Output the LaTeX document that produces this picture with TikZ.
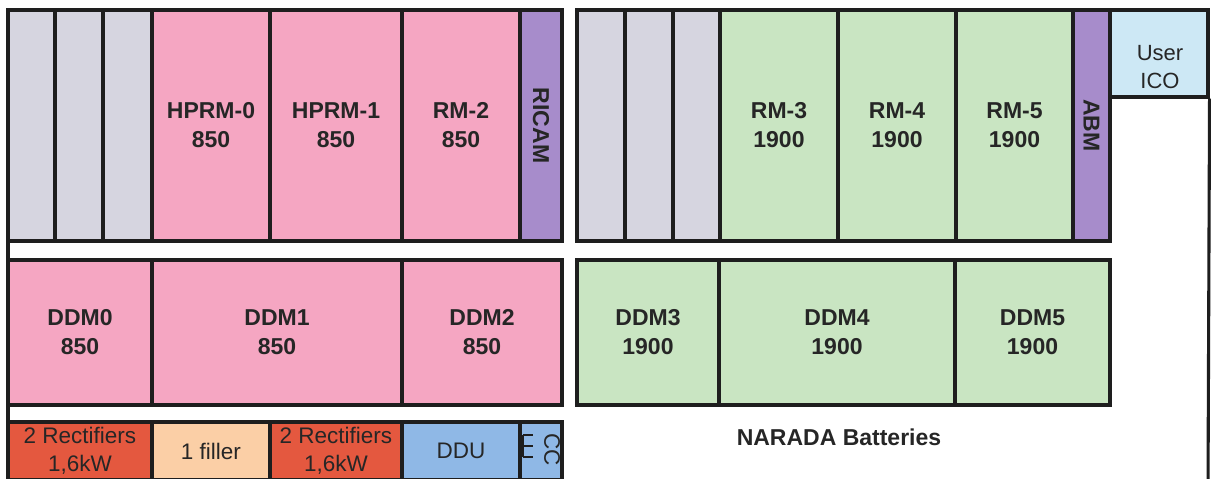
\documentclass[tikz,border=0pt]{standalone}
\usepackage{fontspec}
\setmainfont{Liberation Sans}
\definecolor{cgray}{HTML}{D6D5E0}
\definecolor{cpink}{HTML}{F5A6C2}
\definecolor{cpurple}{HTML}{A78CCB}
\definecolor{cgreen}{HTML}{C9E5C2}
\definecolor{cico}{HTML}{CDE8F5}
\definecolor{cred}{HTML}{E4583F}
\definecolor{cfill}{HTML}{FBCFA6}
\definecolor{cddu}{HTML}{8FB8E6}
\definecolor{cline}{HTML}{1E1E1E}
\definecolor{ctext}{HTML}{262626}
\newcommand\rcell[8][]{%
  \pgfmathsetmacro\rcw{#5-#3}%
  \pgfmathsetmacro\rch{#6-#4}%
  \node[cell,fill=#7,minimum width=\rcw pt,minimum height=\rch pt,#1] (#2) at ({(#3+#5)/2},{(#4+#6)/2}) {#8};}
\begin{document}
\begin{tikzpicture}[x=1pt,y=-1pt,
  cell/.style={draw=cline,line width=3.1pt,rectangle,inner sep=0pt,text=ctext,align=center},
  bold/.style={font=\fontsize{23}{29}\selectfont\bfseries},
  reg/.style={font=\fontsize{22.5}{28}\selectfont},
  frame/.style={draw=cline,line width=3.1pt}]
\clip (0,0) rectangle (1211,479);
\fill[white] (0,0) rectangle (1211,479);
% outer frame lines
\coordinate (lt) at (8,10);
\coordinate (lb) at (8,490);
\draw[frame] (lt) -- (lb);
% top-left row
\rcell{g1}{8}{10}{55}{241}{cgray}{}
\rcell{g2}{55}{10}{103}{241}{cgray}{}
\rcell{g3}{103}{10}{152}{241}{cgray}{}
\rcell[bold]{hprm0}{152}{10}{270}{241}{cpink}{HPRM-0\\850}
\rcell[bold]{hprm1}{270}{10}{402}{241}{cpink}{HPRM-1\\850}
\rcell[bold]{rm2}{402}{10}{520}{241}{cpink}{RM-2\\850}
\rcell{ricam}{520}{10}{562}{241}{cpurple}{}
\node[bold,text=ctext,rotate=-90] (ricamt) at (ricam.center) {RICAM};
% top-right row
\rcell{g4}{577}{10}{625}{241}{cgray}{}
\rcell{g5}{625}{10}{673}{241}{cgray}{}
\rcell{g6}{673}{10}{720}{241}{cgray}{}
\rcell[bold]{rm3}{720}{10}{838}{241}{cgreen}{RM-3\\1900}
\rcell[bold]{rm4}{838}{10}{956}{241}{cgreen}{RM-4\\1900}
\rcell[bold]{rm5}{956}{10}{1073}{241}{cgreen}{RM-5\\1900}
\rcell{abm}{1073}{10}{1110}{241}{cpurple}{}
\node[bold,text=ctext,rotate=-90] (abmt) at (abm.center) {ABM};
\rcell{ico}{1110}{10}{1208}{97}{cico}{}
\node[text=ctext,align=center,font=\fontsize{22}{28}\selectfont] (icot) at (1160,67) {User\\ICO};
\coordinate (rb) at (1208,490);
\draw[frame] (ico.south east) -- (rb);
% second row
\rcell[bold]{ddm0}{8}{260}{152}{405}{cpink}{DDM0\\850}
\rcell[bold]{ddm1}{152}{260}{402}{405}{cpink}{DDM1\\850}
\rcell[bold]{ddm2}{402}{260}{562}{405}{cpink}{DDM2\\850}
\rcell[bold]{ddm3}{577}{260}{719}{405}{cgreen}{DDM3\\1900}
\rcell[bold]{ddm4}{719}{260}{955}{405}{cgreen}{DDM4\\1900}
\rcell[bold]{ddm5}{955}{260}{1110}{405}{cgreen}{DDM5\\1900}
% third row
\rcell[reg]{rect1}{8}{422}{152}{480}{cred}{2 Rectifiers\\1,6kW}
\rcell[reg]{filler}{152}{422}{270}{480}{cfill}{1 filler}
\rcell[reg]{rect2}{270}{422}{402}{480}{cred}{2 Rectifiers\\1,6kW}
\rcell[reg]{ddu}{402}{422}{520}{480}{cddu}{DDU}
\rcell{cc}{520}{422}{562}{480}{cddu}{}
\node[reg,text=ctext,rotate=-90] (cct) at (552,450) {CC};
\coordinate (ea) at (523,435);
\coordinate (eb) at (523,457);
\draw[cline,line width=2pt] (ea) -- (eb);
\draw[cline,line width=2pt] (ea) -- ++(10,0) (523,446) -- ++(10,0) (eb) -- ++(10,0);
\node[bold,text=ctext] (narada) at (839,437) {NARADA Batteries};
\end{tikzpicture}
\end{document}
